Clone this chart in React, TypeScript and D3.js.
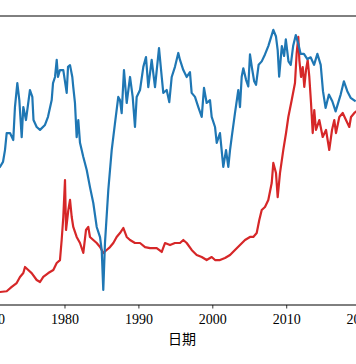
import React from "react";
import * as d3 from "d3";

// decimal year, value
const blueYears = [1970.8,1971.2,1971.61,1971.88,1972.11,1972.56,1973.0,1973.23,1973.55,1973.82,1974.14,1974.36,1974.72,1975.26,1975.58,1975.74,1976.17,1976.62,1977.29,1977.7,1978.2,1978.38,1978.65,1978.88,1979.05,1979.32,1979.77,1980.23,1980.41,1980.68,1980.99,1981.12,1981.35,1981.58,1981.8,1982.03,1982.48,1982.94,1983.38,1983.83,1984.29,1984.74,1984.97,1985.18,1985.41,1985.86,1986.32,1986.77,1987.21,1987.44,1987.67,1987.98,1988.35,1988.8,1989.16,1989.47,1989.7,1990.15,1990.6,1990.96,1991.27,1991.73,1992.18,1992.72,1993.09,1993.3,1993.76,1994.11,1994.44,1994.88,1995.33,1995.56,1996.01,1996.47,1996.91,1997.14,1997.59,1998.04,1998.5,1998.81,1999.17,1999.62,1999.85,2000.3,2000.53,2000.97,2001.42,2001.79,2002.1,2002.33,2002.56,2003.0,2003.45,2003.68,2003.91,2004.13,2004.5,2004.8,2005.03,2005.3,2005.6,2005.85,2006.2,2006.62,2007.06,2007.51,2008.19,2008.55,2008.78,2008.98,2009.34,2009.65,2009.88,2010.24,2010.55,2010.87,2011.23,2011.57,2011.88,2012.33,2012.79,2013.24,2013.7,2014.15,2014.6,2014.91,2015.26,2015.71,2016.17,2016.62,2017.3,2017.74,2018.2,2018.65,2019.33];
const blueValues = [47.0,47.8,49.5,53.6,59.5,59.5,57.1,68.5,76.8,70.9,58.1,68.5,64.0,74.4,72.0,64.0,61.6,60.6,62.3,65.1,70.9,76.8,78.9,84.8,78.9,81.3,81.3,73.4,82.4,83.0,78.9,75.4,69.9,58.1,64.0,56.1,51.2,46.7,40.8,35.3,27.0,23.5,19.0,5.2,21.5,39.8,53.6,63.0,72.0,70.9,66.4,81.3,69.9,78.9,72.0,61.6,72.0,74.4,82.4,85.8,75.4,84.8,75.4,88.9,78.9,73.4,74.4,70.2,78.9,82.4,87.2,84.8,81.3,78.9,80.6,73.4,72.0,68.5,65.1,75.1,69.9,70.9,65.1,61.6,56.1,59.5,47.8,53.6,47.8,53.6,58.1,66.4,74.4,68.5,79.0,81.9,77.9,75.6,86.7,82.0,77.4,76.2,83.1,84.3,86.7,89.6,95.2,92.9,88.2,79.0,89.6,86.2,91.9,84.3,83.1,89.6,93.4,90.4,86.9,86.9,85.1,85.7,83.1,86.9,83.1,74.0,68.2,72.8,70.5,67.0,72.8,77.4,74.0,71.7,70.5];

const redYears = [1970.8,1971.2,1972.11,1972.79,1973.46,1973.91,1974.36,1974.59,1975.03,1975.49,1976.17,1976.62,1977.06,1977.74,1978.42,1978.88,1979.32,1979.55,1979.77,1980.0,1980.14,1980.45,1980.68,1980.91,1981.12,1981.58,1982.03,1982.48,1982.84,1983.15,1983.38,1983.83,1984.29,1984.74,1985.18,1985.64,1986.09,1986.54,1986.99,1987.44,1987.89,1988.35,1988.8,1989.47,1990.15,1990.83,1991.5,1992.41,1993.09,1993.53,1994.21,1994.88,1995.56,1996.01,1996.47,1997.14,1997.82,1998.5,1999.17,1999.85,2000.3,2000.97,2001.65,2002.33,2003.0,2003.68,2004.36,2005.03,2005.48,2005.94,2006.29,2006.62,2007.06,2007.51,2007.97,2008.19,2008.55,2008.78,2009.09,2009.54,2009.91,2010.22,2010.68,2011.12,2011.35,2011.57,2011.71,2011.94,2012.17,2012.38,2012.61,2012.84,2013.06,2013.29,2013.52,2013.73,2013.96,2014.41,2014.87,2015.32,2015.76,2016.13,2016.44,2016.67,2017.12,2017.58,2018.02,2018.47,2018.7,2019.15,2019.65];
const redValues = [35,35,40,70,97,139,166,208,187,166,118,104,139,166,187,236,256,395,554,810,464,602,672,554,485,416,374,305,464,485,416,395,374,346,305,326,346,374,416,443,478,416,395,374,374,346,339,339,312,374,360,374,374,395,374,326,291,277,256,277,256,256,270,291,326,360,395,416,416,443,533,602,623,672,789,928,858,692,858,1018,1135,1246,1364,1481,1689,1800,1640,1523,1592,1454,1571,1640,1523,1343,1135,1294,1156,1225,1108,1156,1018,1156,1225,1135,1246,1274,1225,1177,1246,1274,1294];

const tickYears = [1970, 1980, 1990, 2000, 2010, 2020];
const xLabel = "日期";

const W = 356;
const H = 364;

export default function App() {
  const x = d3.scaleLinear().domain([1969, 2021]).range([-16.3, 368]);
  const yTop = 16;
  const yBottom = 305;
  const yRed = d3.scaleLinear().domain([-55, 1945]).range([yBottom, yTop]);
  const yBlue = d3.scaleLinear().domain([0, 100]).range([yBottom, yTop]);

  const blueLine = d3
    .line<number>()
    .x((_, i) => x(blueYears[i]))
    .y((d) => yBlue(d))(blueValues) || "";
  const redLine = d3
    .line<number>()
    .x((_, i) => x(redYears[i]))
    .y((d) => yRed(d))(redValues) || "";

  return (
    <svg
      width={W}
      height={H}
      style={{ position: "absolute", left: 0, top: 0, background: "#fff" }}
    >
      <rect x={0} y={0} width={W} height={H} fill="#fff" />
      <path d={redLine} fill="none" stroke="#d62728" strokeWidth={2.2} strokeLinejoin="round" />
      <path d={blueLine} fill="none" stroke="#1f77b4" strokeWidth={2.2} strokeLinejoin="round" />
      <line x1={-20} x2={W + 20} y1={yTop} y2={yTop} stroke="#000" strokeWidth={1} />
      <line x1={-20} x2={W + 20} y1={yBottom} y2={yBottom} stroke="#000" strokeWidth={1} />
      {tickYears.map((t) => (
        <g key={t} transform={`translate(${x(t)},0)`}>
          <line y1={yBottom} y2={yBottom + 3.5} stroke="#000" strokeWidth={0.8} />
          <text
            y={yBottom + 19}
            textAnchor="middle"
            fontFamily="'Liberation Serif', serif"
            fontSize={14}
            fill="#000"
          >
            {t}
          </text>
        </g>
      ))}
      <text
        x={182}
        y={343.5}
        textAnchor="middle"
        fontFamily="'Noto Sans CJK SC', sans-serif"
        fontSize={14}
        fill="#000"
      >
        {xLabel}
      </text>
    </svg>
  );
}
